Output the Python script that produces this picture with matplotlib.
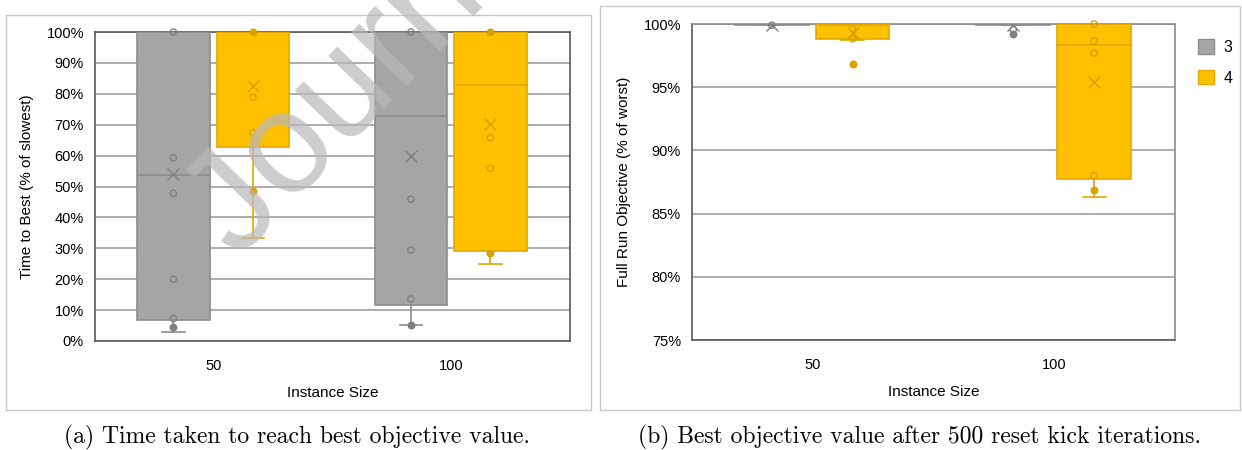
import numpy as np
import matplotlib
matplotlib.use("Agg")
import matplotlib.pyplot as plt
from matplotlib.patches import Rectangle, Patch
from matplotlib.ticker import FuncFormatter

plt.rcParams["font.family"] = ["Liberation Sans", "DejaVu Sans"]

W, H = 1242, 450

sizes = ["50", "100"]
configs = ["3", "4"]

# --- (a) time to best, % of slowest ---
time_q1 = {"3": [6.8, 11.7], "4": [62.7, 29.2]}
time_med = {"3": [53.6, 72.8], "4": [100.0, 82.7]}
time_q3 = {"3": [100.0, 100.0], "4": [100.0, 100.0]}
time_lo = {"3": [3.0, 5.2], "4": [33.4, 24.9]}
time_hi = {"3": [100.0, 100.0], "4": [100.0, 100.0]}
time_mean = {"3": [54.0, 59.9], "4": [82.6, 70.2]}
time_open = {"3": [[100, 59.3, 47.8, 20.0, 7.3], [100, 45.9, 29.4, 13.6]],
             "4": [[78.9, 67.4], [65.8, 55.8]]}
time_filled = {"3": [[4.6], [5.2]],
               "4": [[100, 48.5], [100, 28.6]]}

# --- (b) full run objective, % of worst ---
obj_q1 = {"3": [99.95, 99.95], "4": [98.8, 87.7]}
obj_med = {"3": [100.0, 100.0], "4": [99.95, 98.3]}
obj_q3 = {"3": [100.0, 100.0], "4": [100.0, 100.0]}
obj_lo = {"3": [99.9, 99.9], "4": [98.75, 86.3]}
obj_hi = {"3": [100.0, 100.0], "4": [100.0, 100.0]}
obj_mean = {"3": [99.95, 99.9], "4": [99.26, 95.4]}
obj_open = {"3": [[99.9], [99.55]],
            "4": [[99.66, 98.83], [100, 98.65, 97.7, 88.0]]}
obj_filled = {"3": [[], [99.2]],
              "4": [[96.84], [86.9]]}

fill = {"3": "#A5A5A5", "4": "#FFC000"}
edge = {"3": "#8C8C8C", "4": "#E0A800"}
dots = {"3": "#808080", "4": "#D9A100"}
offsets = {"3": -0.17, "4": 0.165}


def draw_panel(ax, q1, med, q3, lo, hi, mean, pts_open, pts_filled):
    for c in configs:
        stats = []
        for i in range(len(sizes)):
            stats.append(dict(q1=q1[c][i], med=med[c][i], q3=q3[c][i],
                              whislo=lo[c][i], whishi=hi[c][i], mean=mean[c][i]))
        pos = np.arange(len(sizes)) + offsets[c]
        ax.bxp(stats, positions=pos, widths=0.305, patch_artist=True,
               showmeans=True, showfliers=False, capwidths=0.095,
               boxprops=dict(facecolor=fill[c], edgecolor=edge[c], linewidth=1.2),
               medianprops=dict(color=edge[c], linewidth=1.2),
               whiskerprops=dict(color=edge[c], linewidth=1.2),
               capprops=dict(color=edge[c], linewidth=1.2),
               meanprops=dict(marker="x", markeredgecolor=dots[c], markersize=9,
                              markeredgewidth=1.0),
               zorder=3)
        for i in range(len(sizes)):
            xo = np.full(len(pts_open[c][i]), pos[i])
            ax.scatter(xo, pts_open[c][i], s=20, facecolors="none",
                       edgecolors=dots[c], linewidths=1.0, zorder=5, clip_on=False)
            xf = np.full(len(pts_filled[c][i]), pos[i])
            ax.scatter(xf, pts_filled[c][i], s=22, color=dots[c], zorder=5, clip_on=False)
    ax.set_xlim(-0.5, len(sizes) - 0.5)
    ax.set_xticks(np.arange(len(sizes)))
    ax.set_xticklabels(sizes)
    ax.tick_params(length=0, labelsize=10.5, colors="#000000")
    ax.tick_params(axis="x", pad=13)
    ax.tick_params(axis="y", pad=8)
    ax.yaxis.grid(True, color="#A6A6A6", linewidth=1.3)
    ax.set_axisbelow(True)
    ax.yaxis.set_major_formatter(FuncFormatter(lambda v, p: f"{v:.0f}%"))
    ax.set_xlabel("Instance Size", fontsize=11, labelpad=9)
    for s in ax.spines.values():
        s.set_color("#595959")
        s.set_linewidth(1.2)


fig = plt.figure(figsize=(W / 100, H / 100), dpi=100)

ax1 = fig.add_axes([95 / W, 1 - 341 / H, 475 / W, 309 / H])
draw_panel(ax1, time_q1, time_med, time_q3, time_lo, time_hi, time_mean,
           time_open, time_filled)
ax1.set_ylim(0, 100)
ax1.set_yticks(np.arange(0, 101, 10))
ax1.set_ylabel("Time to Best (% of slowest)", fontsize=11, labelpad=9)

ax2 = fig.add_axes([692 / W, 1 - 340 / H, 483 / W, 316 / H])
draw_panel(ax2, obj_q1, obj_med, obj_q3, obj_lo, obj_hi, obj_mean,
           obj_open, obj_filled)
ax2.set_ylim(75, 100)
ax2.set_yticks(np.arange(75, 101, 5))
ax2.set_ylabel("Full Run Objective (% of worst)", fontsize=11, labelpad=9)
ax2.spines["right"].set_color("#8C8C8C")
ax2.spines["top"].set_color("#8C8C8C")

handles = [Patch(facecolor=fill[c], edgecolor=edge[c], label=c) for c in configs]
fig.legend(handles=handles, loc="upper left", bbox_to_anchor=(1184 / W, 1 - 25 / H),
           frameon=False, fontsize=11.5, handlelength=1.0, handleheight=1.0,
           handletextpad=0.6, labelspacing=0.95)

# panel frames
fig.add_artist(Rectangle((6 / W, 1 - 410 / H), 585 / W, 395 / H, fill=False,
                         edgecolor="#C8C8C8", linewidth=1.0, transform=fig.transFigure))
fig.add_artist(Rectangle((600 / W, 1 - 410 / H), 640 / W, 404 / H, fill=False,
                         edgecolor="#C8C8C8", linewidth=1.0, transform=fig.transFigure))

# captions
fig.text(297 / W, 1 - 437 / H, "(a) Time taken to reach best objective value.",
         family="cmr10", fontsize=17, ha="center", va="center")
fig.text(920 / W, 1 - 437 / H, "(b) Best objective value after 500 reset kick iterations.",
         family="cmr10", fontsize=17, ha="center", va="center")

# watermark
fig.text(238 / W, 1 - 260 / H, "Journal Pre-proof", fontsize=104, color="#B8B8B8",
         alpha=0.7, rotation=46, rotation_mode="anchor", ha="left", va="baseline",
         zorder=10)

fig.savefig("out.png", dpi=100)
